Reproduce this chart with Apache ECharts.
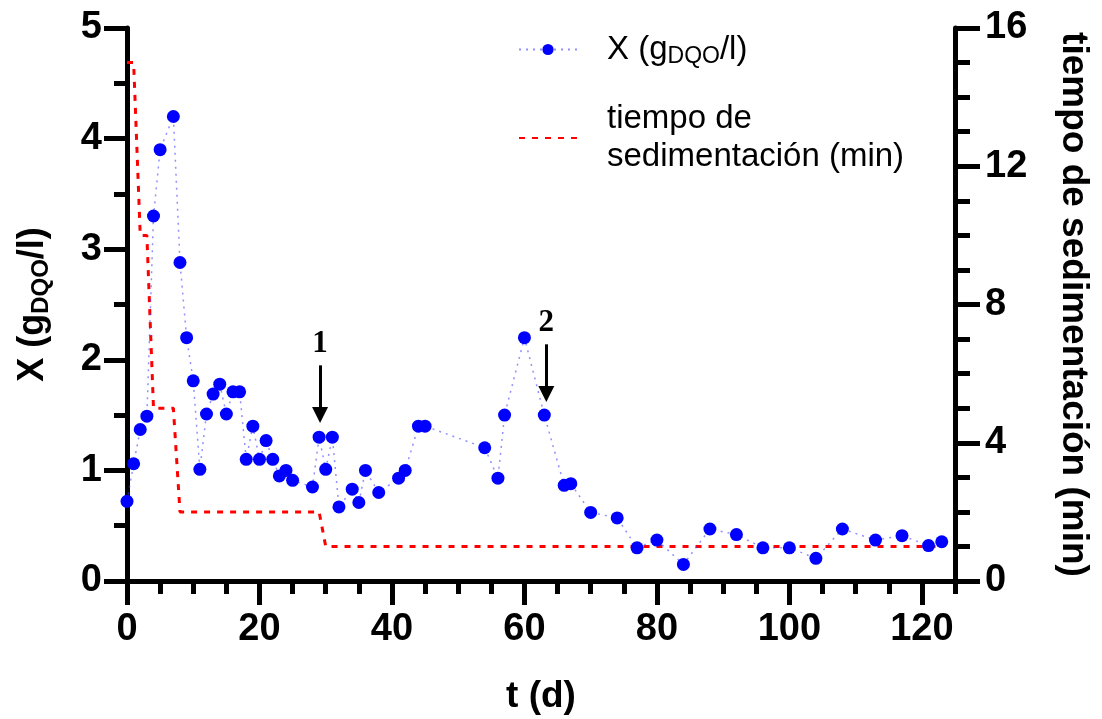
<!DOCTYPE html>
<html>
<head>
<meta charset="utf-8">
<script src="https://cdn.jsdelivr.net/npm/echarts@6/dist/echarts.min.js"></script>
<style>
html,body{margin:0;padding:0;background:#fff;}
#c{width:1102px;height:719px;}
</style>
</head>
<body>
<div id="c"></div>
<script>
// Biomass X (g DQO/l) vs time (d)
var dayX = [0,1,2,3,4,5,7,8,9,10,11,12,13,14,15,16,17,18,19,20,21,22,23,24,25,28,29,30,31,32,34,35,36,38,41,42,44,45,54,56,57,60,63,66,67,70,74,77,80,84,88,92,96,100,104,108,113,117,121,123];
var valX = [0.72,1.06,1.37,1.49,3.30,3.90,4.20,2.88,2.20,1.81,1.01,1.51,1.69,1.78,1.51,1.71,1.71,1.10,1.40,1.10,1.27,1.10,0.95,1.00,0.91,0.85,1.30,1.01,1.30,0.67,0.83,0.71,1.00,0.80,0.93,1.00,1.40,1.40,1.205,0.93,1.50,2.20,1.50,0.865,0.88,0.62,0.57,0.30,0.37,0.15,0.47,0.42,0.30,0.30,0.205,0.47,0.37,0.41,0.32,0.355];
// Settling time (min) vs time (d)
var daySed = [0,1,2,3,4,7,8,29,30,123];
var valSed = [15,15,10,10,5,5,2,2,1,1];
// Arrow annotations: label, day, start value, end value (left axis units)
var arrowLabels = ['1','2'];
var arrowDays = [29.15,63.3];
var arrowStart = [1.95,2.14];
var arrowEnd = [1.50,1.69];
// tick labels
var xMajorTicks = [0,20,40,60,80,100,120];

var FONT = '"Liberation Sans", Arial, Helvetica, sans-serif';

function pairs(a,b){ return a.map(function(v,i){ return [v,b[i]]; }); }

var arrowData = arrowLabels.map(function(l,i){
  return [
    {coord:[arrowDays[i], arrowStart[i]], name:l},
    {coord:[arrowDays[i], arrowEnd[i]]}
  ];
});

var chart = echarts.init(document.getElementById('c'), null, {renderer:'canvas'});
var black = '#000';
function axLine(){ return {show:true, onZero:false, lineStyle:{color:black, width:5}}; }
chart.setOption({
  animation:false,
  backgroundColor:'#fff',
  grid:{left:127, right:147, top:28, bottom:138, containLabel:false, outerBoundsMode:'none'},
  legend:{
    orient:'vertical', left:513, top:28,
    itemWidth:58, itemHeight:14, itemGap:34,
    data:[{name:'X'}, {name:'tiempo', itemStyle:{opacity:0}}],
    formatter:function(n){
      return n === 'X' ? '{n|X (g}{s|DQO}{n|/l)}' : '{n|tiempo de}\n{n|sedimentación (min)}';
    },
    textStyle:{
      fontFamily:FONT, fontSize:33, color:black, padding:[0,0,0,25],
      rich:{
        n:{fontFamily:FONT, fontSize:33, lineHeight:38, color:black},
        s:{fontFamily:FONT, fontSize:23, lineHeight:20, verticalAlign:'bottom', color:black}
      }
    }
  },
  xAxis:[
    {
      type:'value', position:'bottom', min:0, max:125, interval:5,
      axisLine:axLine(), splitLine:{show:false},
      axisTick:{show:true, inside:false, length:13, lineStyle:{color:black, width:5}},
      axisLabel:{
        margin:30, fontFamily:FONT, fontSize:38, fontWeight:'bold', color:black,
        formatter:function(v){ return xMajorTicks.indexOf(v) >= 0 ? String(v) : ''; }
      },
      name:'t (d)', nameLocation:'middle', nameGap:97,
      nameTextStyle:{fontFamily:FONT, fontSize:37, fontWeight:'bold', color:black}
    },
    {
      type:'value', position:'bottom', min:0, max:125, interval:20,
      axisLine:{show:false, onZero:false},
      axisTick:{show:true, inside:false, length:24, customValues:xMajorTicks, lineStyle:{color:black, width:5}},
      axisLabel:{show:false},
      splitLine:{show:false}
    }
  ],
  yAxis:[
    {
      type:'value', position:'left', min:0, max:5, interval:1,
      axisLine:axLine(), splitLine:{show:false}, minorSplitLine:{show:false},
      axisTick:{show:true, inside:false, length:23, lineStyle:{color:black, width:5}},
      minorTick:{show:true, splitNumber:2, length:13, lineStyle:{color:black, width:5}},
      axisLabel:{margin:25, fontFamily:FONT, fontSize:38, fontWeight:'bold', color:black},
      name:'{n|X (g}{s|DQO}{n|/l)}', nameLocation:'middle', nameGap:74, nameRotate:90,
      nameTextStyle:{
        fontFamily:FONT, fontSize:36, fontWeight:'bold', color:black,
        rich:{
          n:{fontFamily:FONT, fontSize:36, fontWeight:'bold', lineHeight:40, color:black},
          s:{fontFamily:FONT, fontSize:24, fontWeight:'bold', lineHeight:22, verticalAlign:'bottom', color:black}
        }
      }
    },
    {
      type:'value', position:'right', min:0, max:16, interval:4,
      axisLine:axLine(), splitLine:{show:false}, minorSplitLine:{show:false},
      axisTick:{show:true, inside:false, length:25, lineStyle:{color:black, width:5}},
      minorTick:{show:true, splitNumber:4, length:15, lineStyle:{color:black, width:5}},
      axisLabel:{margin:30, fontFamily:FONT, fontSize:38, fontWeight:'bold', color:black},
      name:'tiempo de sedimentación (min)', nameLocation:'middle', nameGap:100, nameRotate:-90,
      nameTextStyle:{fontFamily:FONT, fontSize:37, fontWeight:'bold', color:black}
    }
  ],
  series:[
    {
      name:'tiempo', type:'line', xAxisIndex:0, yAxisIndex:1,
      data:pairs(daySed, valSed),
      showSymbol:false, symbol:'none',
      lineStyle:{color:'#ff0000', width:3, type:[6,7]},
      itemStyle:{color:'#ff0000'},
      z:2
    },
    {
      name:'X', type:'line', xAxisIndex:0, yAxisIndex:0,
      data:pairs(dayX, valX),
      symbol:'circle', symbolSize:13,
      itemStyle:{color:'#0000ff'},
      lineStyle:{color:'rgba(70,70,255,0.6)', width:1.5, type:[2,5]},
      z:3,
      markLine:{
        silent:true, animation:false,
        symbol:['none','triangle'], symbolSize:[16,16],
        lineStyle:{color:black, width:3, type:'solid'},
        label:{
          show:true, position:'start', distance:6,
          formatter:function(p){ return p.name; },
          fontFamily:'"Liberation Serif", "Times New Roman", serif',
          fontSize:31, fontWeight:'bold', color:black
        },
        data:arrowData
      }
    }
  ]
});
</script>
</body>
</html>
